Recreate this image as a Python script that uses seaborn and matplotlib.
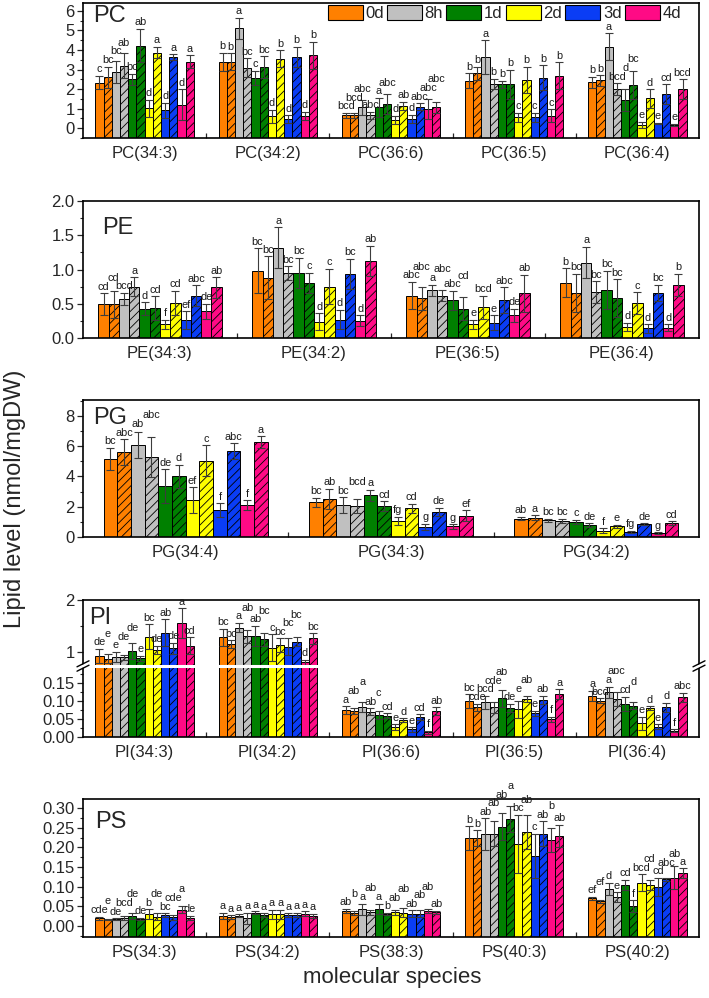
import numpy as np
import pandas as pd
import matplotlib
matplotlib.use("Agg")
import matplotlib.pyplot as plt
import seaborn as sns
from matplotlib.patches import Patch
from matplotlib.lines import Line2D
from matplotlib.ticker import MultipleLocator, FormatStrFormatter, FixedLocator

sns.set_style("ticks")
plt.rcParams['font.family'] = ['Liberation Sans', 'DejaVu Sans']
plt.rcParams['hatch.linewidth'] = 0.6

# ---------------- data ----------------
times = ["0d", "8h", "1d", "2d", "3d", "4d"]
time_colors = ["#FF8000", "#C0C0C0", "#008000", "#FFFF00", "#0A3DF5", "#FF0A85"]
# each species has 12 bars: for each time point a plain bar then a hatched bar

pc_species = ["PC(34:3)", "PC(34:2)", "PC(36:6)", "PC(36:5)", "PC(36:4)"]
pc_mean = [
    [2.33, 2.60, 2.88, 3.20, 2.50, 4.22, 1.02, 3.87, 0.92, 3.63, 1.21, 3.40],
    [3.40, 3.40, 5.10, 3.10, 2.57, 3.13, 0.62, 3.56, 0.46, 3.65, 0.62, 3.73],
    [0.66, 0.66, 1.06, 0.66, 1.06, 1.23, 0.43, 1.14, 0.48, 1.11, 0.97, 1.06],
    [2.42, 2.80, 3.63, 2.28, 2.24, 2.24, 0.56, 2.47, 0.56, 2.59, 0.65, 2.69],
    [2.35, 2.44, 4.17, 2.00, 1.43, 2.20, 0.17, 1.52, 0.26, 1.74, 0.17, 2.00],
]
pc_err = [
    [0.34, 0.55, 0.57, 0.63, 0.28, 0.86, 0.43, 0.29, 0.38, 0.14, 0.77, 0.33],
    [0.47, 0.43, 0.54, 0.47, 0.36, 0.55, 0.33, 0.43, 0.20, 0.51, 0.22, 0.68],
    [0.12, 0.12, 0.37, 0.17, 0.49, 0.51, 0.20, 0.22, 0.20, 0.17, 0.51, 0.27],
    [0.38, 0.35, 0.87, 0.26, 0.18, 0.76, 0.24, 0.68, 0.24, 0.63, 0.32, 0.67],
    [0.29, 0.27, 0.68, 0.30, 0.57, 0.73, 0.17, 0.47, 0.03, 0.50, 0.05, 0.50],
]
pc_letters = [
    ["c", "bc", "bc", "ab", "bc", "ab", "d", "a", "d", "a", "d", "a"],
    ["b", "b", "a", "bc", "c", "bc", "d", "b", "d", "b", "d", "b"],
    ["bcd", "bcd", "abc", "abc", "a", "abc", "d", "ab", "d", "abc", "abc", "abc"],
    ["b", "b", "a", "b", "b", "b", "c", "b", "c", "b", "c", "b"],
    ["b", "b", "a", "bcd", "d", "bc", "e", "d", "e", "cd", "e", "bcd"],
]

pe_species = ["PE(34:3)", "PE(34:2)", "PE(36:5)", "PE(36:4)"]
pe_mean = [
    [0.49, 0.49, 0.57, 0.75, 0.43, 0.44, 0.20, 0.51, 0.26, 0.62, 0.39, 0.74],
    [0.98, 0.88, 1.32, 0.95, 0.95, 0.80, 0.24, 0.75, 0.27, 0.94, 0.25, 1.13],
    [0.62, 0.58, 0.70, 0.62, 0.55, 0.43, 0.20, 0.45, 0.22, 0.55, 0.33, 0.65],
    [0.81, 0.66, 1.10, 0.67, 0.70, 0.58, 0.16, 0.51, 0.14, 0.66, 0.15, 0.78],
]
pe_err = [
    [0.16, 0.20, 0.09, 0.14, 0.09, 0.17, 0.07, 0.18, 0.13, 0.15, 0.11, 0.15],
    [0.33, 0.31, 0.30, 0.10, 0.22, 0.15, 0.12, 0.26, 0.14, 0.22, 0.08, 0.22],
    [0.20, 0.17, 0.08, 0.08, 0.14, 0.17, 0.07, 0.17, 0.11, 0.19, 0.10, 0.27],
    [0.21, 0.28, 0.23, 0.16, 0.28, 0.28, 0.06, 0.16, 0.06, 0.12, 0.05, 0.16],
]
pe_letters = [
    ["cd", "cd", "bcd", "a", "d", "cd", "f", "cd", "ef", "abc", "de", "ab"],
    ["bc", "bc", "a", "bc", "bc", "c", "d", "c", "d", "bc", "d", "ab"],
    ["abc", "abc", "a", "abc", "abc", "cd", "e", "bcd", "e", "abc", "de", "ab"],
    ["b", "bc", "a", "bc", "bc", "bc", "d", "c", "d", "bc", "d", "b"],
]

pg_species = ["PG(34:4)", "PG(34:3)", "PG(34:2)"]
pg_mean = [
    [5.16, 5.62, 6.10, 5.29, 3.35, 4.00, 2.43, 5.03, 1.78, 5.66, 2.11, 6.25],
    [2.30, 2.52, 2.11, 2.04, 2.76, 2.04, 1.07, 1.89, 0.67, 1.65, 0.70, 1.41],
    [1.22, 1.26, 1.11, 1.07, 1.00, 0.80, 0.41, 0.70, 0.35, 0.85, 0.26, 0.93],
]
pg_err = [
    [0.74, 0.85, 0.85, 1.31, 1.11, 0.77, 0.85, 1.02, 0.44, 0.54, 0.32, 0.39],
    [0.29, 0.68, 0.52, 0.44, 0.37, 0.33, 0.26, 0.31, 0.22, 0.28, 0.15, 0.37],
    [0.13, 0.17, 0.11, 0.15, 0.13, 0.11, 0.16, 0.10, 0.06, 0.06, 0.04, 0.11],
]
pg_letters = [
    ["bc", "abc", "ab", "abc", "de", "d", "ef", "c", "f", "abc", "f", "a"],
    ["bc", "ab", "bc", "bcd", "a", "cd", "fg", "cd", "g", "de", "g", "ef"],
    ["ab", "a", "bc", "bc", "c", "de", "f", "e", "fg", "de", "g", "cd"],
]

pi_species = ["PI(34:3)", "PI(34:2)", "PI(36:6)", "PI(36:5)", "PI(36:4)"]
pi_mean = [
    [0.92, 0.87, 0.90, 0.90, 1.02, 0.88, 1.29, 1.04, 1.37, 1.07, 1.55, 1.12],
    [1.28, 1.15, 1.47, 1.30, 1.31, 1.24, 1.08, 1.13, 1.10, 1.20, 0.80, 1.26],
    [0.075, 0.072, 0.083, 0.070, 0.061, 0.059, 0.027, 0.047, 0.021, 0.055, 0.013, 0.072],
    [0.100, 0.082, 0.096, 0.082, 0.107, 0.080, 0.077, 0.106, 0.066, 0.103, 0.049, 0.119],
    [0.114, 0.100, 0.124, 0.106, 0.092, 0.087, 0.038, 0.080, 0.029, 0.082, 0.018, 0.110],
]
pi_err = [
    [0.14, 0.09, 0.10, 0.05, 0.15, 0.05, 0.24, 0.08, 0.26, 0.11, 0.29, 0.16],
    [0.17, 0.08, 0.09, 0.12, 0.19, 0.12, 0.26, 0.13, 0.16, 0.09, 0.05, 0.10],
    [0.011, 0.008, 0.014, 0.010, 0.011, 0.007, 0.008, 0.005, 0.006, 0.008, 0.004, 0.010],
    [0.019, 0.010, 0.018, 0.016, 0.023, 0.012, 0.024, 0.009, 0.007, 0.012, 0.007, 0.014],
    [0.015, 0.007, 0.016, 0.020, 0.020, 0.009, 0.018, 0.006, 0.006, 0.013, 0.003, 0.013],
]
pi_letters = [
    ["de", "e", "e", "de", "de", "e", "bc", "de", "ab", "de", "a", "cd"],
    ["bc", "bc", "a", "ab", "ab", "bc", "c", "bc", "bc", "bc", "d", "bc"],
    ["a", "ab", "a", "ab", "c", "cd", "e", "d", "e", "cd", "f", "ab"],
    ["bc", "cde", "bcd", "cde", "ab", "de", "e", "ab", "e", "ab", "f", "a"],
    ["a", "bcd", "a", "abc", "cd", "d", "e", "d", "e", "d", "f", "abc"],
]

ps_species = ["PS(34:3)", "PS(34:2)", "PS(38:3)", "PS(40:3)", "PS(40:2)"]
ps_mean = [
    [0.020, 0.016, 0.018, 0.020, 0.026, 0.018, 0.030, 0.024, 0.028, 0.022, 0.041, 0.020],
    [0.026, 0.022, 0.026, 0.020, 0.034, 0.028, 0.030, 0.030, 0.028, 0.028, 0.031, 0.026],
    [0.039, 0.033, 0.043, 0.035, 0.043, 0.031, 0.035, 0.034, 0.031, 0.031, 0.039, 0.035],
    [0.224, 0.224, 0.234, 0.235, 0.253, 0.272, 0.209, 0.240, 0.179, 0.235, 0.218, 0.229],
    [0.070, 0.063, 0.095, 0.074, 0.104, 0.050, 0.110, 0.104, 0.100, 0.119, 0.123, 0.134],
]
ps_err = [
    [0.004, 0.002, 0.002, 0.006, 0.007, 0.003, 0.013, 0.009, 0.005, 0.006, 0.009, 0.006],
    [0.008, 0.005, 0.004, 0.014, 0.003, 0.005, 0.011, 0.011, 0.005, 0.006, 0.006, 0.005],
    [0.005, 0.004, 0.014, 0.006, 0.013, 0.003, 0.006, 0.012, 0.009, 0.009, 0.005, 0.004],
    [0.030, 0.020, 0.040, 0.032, 0.034, 0.032, 0.074, 0.043, 0.056, 0.031, 0.030, 0.028],
    [0.004, 0.004, 0.015, 0.012, 0.013, 0.015, 0.022, 0.013, 0.023, 0.004, 0.029, 0.013],
]
ps_letters = [
    ["cde", "e", "de", "bcd", "de", "de", "b", "de", "bc", "cde", "a", "de"],
    ["a", "a", "a", "a", "a", "a", "a", "a", "a", "a", "a", "a"],
    ["ab", "b", "a", "ab", "a", "b", "ab", "ab", "ab", "ab", "ab", "ab"],
    ["b", "b", "ab", "ab", "ab", "a", "bc", "ab", "c", "ab", "b", "ab"],
    ["ef", "ef", "d", "e", "cd", "f", "bcd", "cd", "cd", "abc", "ab", "a"],
]

# ---------------- helpers ----------------
bar_levels = []
bar_palette = []
for t, c in zip(times, time_colors):
    bar_levels += [t, t + " (hatched)"]
    bar_palette += [c, c]

FIG_W, FIG_H = 709, 998
DPI = 100
AX_L, AX_R = 83, 699
LETTER_FS = 7.8
GLYPH_W = {"a": .556, "b": .556, "c": .5, "d": .556, "e": .556, "f": .278,
           "g": .556}


def make_ax(fig, top, bottom):
    return fig.add_axes([AX_L / FIG_W, 1 - bottom / FIG_H,
                         (AX_R - AX_L) / FIG_W, (bottom - top) / FIG_H])


def to_frame(species, means):
    rows = []
    for s, vals in zip(species, means):
        for lev, v in zip(bar_levels, vals):
            rows.append({"species": s, "bar": lev, "value": v})
    return pd.DataFrame(rows)


def draw_bars(ax, species, means, errs, base=0.0):
    df = to_frame(species, means)
    sns.barplot(data=df, x="species", y="value", hue="bar", order=species,
                hue_order=bar_levels, palette=bar_palette, saturation=1,
                edgecolor="black", linewidth=0.7, width=0.8, gap=0,
                errorbar=None, legend=False, ax=ax)
    centers = np.zeros((len(species), len(bar_levels)))
    for i, cont in enumerate(ax.containers):
        for j, p in enumerate(cont.patches):
            if i % 2 == 1:
                p.set_hatch("////")
            if base != 0.0:
                h = p.get_height()
                p.set_y(base)
                p.set_height(h - base)
            centers[j, i] = p.get_x() + p.get_width() / 2
    m = np.array(means)
    e = np.array(errs)
    ax.errorbar(centers.ravel(), m.ravel(), yerr=e.ravel(), fmt="none",
                ecolor="#3c3c3c", elinewidth=0.8, capsize=2.6, capthick=0.8,
                zorder=5)
    return centers


def add_letters(ax_for, centers, means, errs, letters):
    px = DPI / 72.0
    em = LETTER_FS * px
    h = 0.74 * em
    for j in range(centers.shape[0]):
        placed = []
        for i in range(centers.shape[1]):
            top = means[j][i] + errs[j][i]
            ax = ax_for(top)
            xd, yd = ax.transData.transform((centers[j, i], top))
            lab = letters[j][i]
            w = sum(GLYPH_W.get(ch, .556) for ch in lab) * em
            y = yd + 1.5
            x0, x1 = xd - w / 2, xd + w / 2
            for _ in range(6):
                conf = [b for b in placed
                        if min(x1, b[1]) - max(x0, b[0]) > 0.5
                        and min(y + h, b[3]) - max(y, b[2]) > 0.5]
                if not conf:
                    break
                y = max(b[3] for b in conf) + 0.6
            placed.append((x0, x1, y, y + h))
            ax.annotate(lab, (centers[j, i], top),
                        xytext=(0, (y - yd) / px), textcoords="offset points",
                        ha="center", va="bottom", fontsize=LETTER_FS,
                        color="#1a1a1a", annotation_clip=False, zorder=6)


def style_ax(ax, n, ylim, major, minor, fmt, show_xlabels=True):
    ax.set_xlim(-0.5, n - 0.5)
    ax.set_ylim(*ylim)
    ax.set_xlabel("")
    ax.set_ylabel("")
    ax.yaxis.set_major_locator(major)
    ax.yaxis.set_minor_locator(minor)
    ax.yaxis.set_major_formatter(fmt)
    ax.tick_params(axis="y", which="major", direction="out", length=4,
                   width=0.9, labelsize=12, pad=2)
    ax.tick_params(axis="y", which="minor", direction="out", length=2.2,
                   width=0.8)
    ax.tick_params(axis="x", which="major", length=0, labelsize=12, pad=6)
    ax.xaxis.set_minor_locator(FixedLocator([k + 0.5 for k in range(n - 1)]))
    ax.tick_params(axis="x", which="minor", direction="in", length=3.5,
                   width=0.9)
    if not show_xlabels:
        ax.tick_params(axis="x", which="both", labelbottom=False, length=0)
    for s in ax.spines.values():
        s.set_visible(True)
        s.set_linewidth(1.2)
        s.set_color("black")


def panel_label(ax, text, x, y):
    ax.text(x, y, text, transform=ax.transAxes, fontsize=17, ha="left",
            va="top", zorder=7)


# ---------------- figure ----------------
fig = plt.figure(figsize=(FIG_W / DPI, FIG_H / DPI), dpi=DPI)

# PC
ax_pc = make_ax(fig, 3, 138)
c = draw_bars(ax_pc, pc_species, pc_mean, pc_err, base=-0.5)
style_ax(ax_pc, 5, (-0.5, 6.4), MultipleLocator(1), MultipleLocator(0.5),
         FormatStrFormatter("%d"))
add_letters(lambda t: ax_pc, c, pc_mean, pc_err, pc_letters)
panel_label(ax_pc, "PC", 0.016, 0.985)
handles = [Patch(facecolor=col, edgecolor="black", linewidth=0.8, label=t)
           for t, col in zip(times, time_colors)]
ax_pc.legend(handles=handles, ncol=6, loc="upper right",
             bbox_to_anchor=((681 - AX_L) / (AX_R - AX_L), 0.985),
             frameon=False, fontsize=12, handlelength=2.1, handleheight=1.0,
             handletextpad=0.15, columnspacing=0.2, borderpad=0,
             borderaxespad=0)

# PE
ax_pe = make_ax(fig, 201, 338)
c = draw_bars(ax_pe, pe_species, pe_mean, pe_err)
style_ax(ax_pe, 4, (0, 2.0), MultipleLocator(0.5), MultipleLocator(0.25),
         FormatStrFormatter("%.1f"))
add_letters(lambda t: ax_pe, c, pe_mean, pe_err, pe_letters)
panel_label(ax_pe, "PE", 0.031, 0.885)

# PG
ax_pg = make_ax(fig, 400, 537)
c = draw_bars(ax_pg, pg_species, pg_mean, pg_err)
style_ax(ax_pg, 3, (0, 9.05), MultipleLocator(2), MultipleLocator(1),
         FormatStrFormatter("%d"))
add_letters(lambda t: ax_pg, c, pg_mean, pg_err, pg_letters)
panel_label(ax_pg, "PG", 0.016, 0.95)

# PI (broken axis)
ax_pi_hi = make_ax(fig, 600, 666)
ax_pi_lo = make_ax(fig, 666, 737)
c = draw_bars(ax_pi_hi, pi_species, pi_mean, pi_err)
draw_bars(ax_pi_lo, pi_species, pi_mean, pi_err)
style_ax(ax_pi_hi, 5, (0.73, 2.0), FixedLocator([1, 2]),
         FixedLocator([1.5]), FormatStrFormatter("%d"), show_xlabels=False)
style_ax(ax_pi_lo, 5, (0, 0.197), MultipleLocator(0.05),
         MultipleLocator(0.025), FormatStrFormatter("%.2f"))
ax_pi_hi.spines["bottom"].set_visible(False)
ax_pi_lo.spines["top"].set_visible(False)
add_letters(lambda t: ax_pi_hi if t > 0.2 else ax_pi_lo, c, pi_mean, pi_err,
            pi_letters)
panel_label(ax_pi_hi, "PI", 0.01, 0.9)
yb = 1 - 666 / FIG_H
fig.add_artist(Line2D([(AX_L + 1) / FIG_W, (AX_R - 1) / FIG_W], [yb, yb],
                      transform=fig.transFigure, color="white", lw=2.2,
                      zorder=20))
for xe in (AX_L, AX_R):
    fig.add_artist(Line2D([(xe - 6) / FIG_W, (xe + 6) / FIG_W],
                          [yb - 3 / FIG_H, yb + 3 / FIG_H],
                          transform=fig.transFigure, color="white",
                          lw=2.0, zorder=20.5))
    for dy in (-2.2, 2.2):
        fig.add_artist(Line2D([(xe - 6) / FIG_W, (xe + 6) / FIG_W],
                              [yb + (dy - 3) / FIG_H, yb + (dy + 3) / FIG_H],
                              transform=fig.transFigure, color="black",
                              lw=1.0, zorder=21))

# PS
ax_ps = make_ax(fig, 799, 937)
c = draw_bars(ax_ps, ps_species, ps_mean, ps_err, base=-0.028)
style_ax(ax_ps, 5, (-0.028, 0.323), MultipleLocator(0.05),
         MultipleLocator(0.025), FormatStrFormatter("%.2f"))
add_letters(lambda t: ax_ps, c, ps_mean, ps_err, ps_letters)
panel_label(ax_ps, "PS", 0.02, 0.915)

fig.text(0.021, 0.50, "Lipid level (nmol/mgDW)", rotation=90, ha="center",
         va="center", fontsize=17)
fig.text(0.553, 0.021, "molecular species", ha="center", va="center",
         fontsize=16)

fig.savefig("out.png", dpi=DPI)
